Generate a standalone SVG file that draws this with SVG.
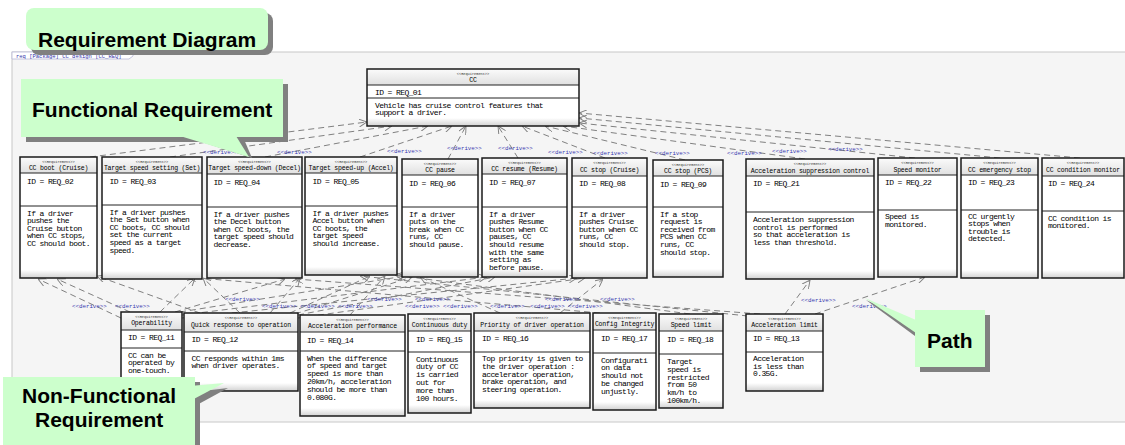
<svg xmlns="http://www.w3.org/2000/svg" width="1125" height="445" viewBox="0 0 1125 445">
<defs>
<linearGradient id="hg" x1="0" y1="0" x2="0" y2="1"><stop offset="0" stop-color="#fbfbfb"/><stop offset="1" stop-color="#e0e0e0"/></linearGradient>
<linearGradient id="fg" x1="0" y1="0" x2="0" y2="1"><stop offset="0" stop-color="#ffffff"/><stop offset="1" stop-color="#d2d2d2"/></linearGradient>
<marker id="ah" viewBox="0 0 10 10" refX="10" refY="5" markerWidth="8" markerHeight="8" markerUnits="userSpaceOnUse" orient="auto"><path d="M0,0 L10,5 L0,10" fill="none" stroke="#808080" stroke-width="1.2"/></marker>
<style>
.bx{fill:#fff}
.hd{fill:url(#hg)}
.ft{fill:url(#fg)}
.sep{stroke:#222;stroke-width:1;fill:none}
.ol{fill:none;stroke:#1a1a1a;stroke-width:1.5}
.st{font-family:"Liberation Mono",monospace;font-size:3.6px;fill:#333;text-anchor:middle}
.nm{font-family:"Liberation Mono",monospace;font-size:6.5px;letter-spacing:-0.2px;fill:#000;text-anchor:middle}
.tx{font-family:"Liberation Mono",monospace;font-size:8px;letter-spacing:-0.6px;fill:#000}
.lbl{font-family:"Liberation Mono",monospace;font-size:5.8px;fill:#3a3ab0}
.cn line{stroke:#808080;stroke-width:1;stroke-dasharray:6 4;fill:none;marker-end:url(#ah)}
.co{fill:#ccffcc}
.sh{fill:#808080}
.ct{font-family:"Liberation Sans",Arial,sans-serif;font-weight:bold;font-size:21px;fill:#000}
</style>
</defs>

<!-- diagram frame -->
<rect x="12" y="52" width="1120" height="370" fill="#f5f5f5" stroke="#c8c8c8" stroke-width="1"/>
<path d="M12,52 H133 V56 L129,59 H12 Z" fill="#fff" stroke="#b8b8d8" stroke-width="0.8"/>
<text x="16" y="57.5" style="font-family:'Liberation Mono',monospace;font-size:5.5px;fill:#3333aa">req [Package] CC design [CC_REQ]</text>

<!-- derive connectors -->
<g id="connectors" class="cn">
<line x1="90" y1="157" x2="367" y2="122"/>
<line x1="170" y1="157" x2="392" y2="126"/>
<line x1="265" y1="157" x2="428" y2="126"/>
<line x1="360" y1="157" x2="452" y2="126"/>
<line x1="448" y1="159" x2="466" y2="126"/>
<line x1="518" y1="158" x2="498" y2="126"/>
<line x1="605" y1="158" x2="522" y2="126"/>
<line x1="685" y1="160" x2="545" y2="126"/>
<line x1="805" y1="159" x2="563" y2="126"/>
<line x1="915" y1="158" x2="579" y2="123"/>
<line x1="1000" y1="158" x2="579" y2="118"/>
<line x1="1080" y1="158" x2="579" y2="113"/>

<line x1="121" y1="318" x2="38" y2="279"/>
<line x1="130" y1="312" x2="57" y2="279"/>
<line x1="200" y1="313" x2="97" y2="276"/>
<line x1="160" y1="312" x2="195" y2="278"/>
<line x1="240" y1="313" x2="203" y2="278"/>
<line x1="600" y1="313" x2="188" y2="277"/>
<line x1="175" y1="312" x2="285" y2="279"/>
<line x1="270" y1="313" x2="300" y2="278"/>
<line x1="760" y1="314" x2="295" y2="279"/>
<line x1="290" y1="313" x2="370" y2="276"/>
<line x1="350" y1="315" x2="385" y2="276"/>
<line x1="690" y1="314" x2="395" y2="275"/>
<line x1="748" y1="316" x2="360" y2="276"/>
<line x1="180" y1="312" x2="405" y2="276"/>
<line x1="295" y1="314" x2="412" y2="277"/>
<line x1="500" y1="313" x2="420" y2="277"/>
<line x1="182" y1="315" x2="487" y2="277"/>
<line x1="298" y1="315" x2="495" y2="277"/>
<line x1="182" y1="318" x2="577" y2="278"/>
<line x1="298" y1="318" x2="585" y2="278"/>
<line x1="560" y1="313" x2="603" y2="279"/>
<line x1="785" y1="314" x2="810" y2="280"/>
<line x1="815" y1="314" x2="925" y2="277"/>
</g>

<!-- connector labels -->
<g id="connector-labels" class="lbl">
<text x="203" y="154">&lt;&lt;derive&gt;&gt;</text>
<text x="277" y="154">&lt;&lt;derive&gt;&gt;</text>
<text x="387" y="153">&lt;&lt;derive&gt;&gt;</text>
<text x="447" y="150">&lt;&lt;derive&gt;&gt;</text>
<text x="498" y="150">&lt;&lt;derive&gt;&gt;</text>
<text x="548" y="154">&lt;&lt;derive&gt;&gt;</text>
<text x="593" y="155">&lt;&lt;derive&gt;&gt;</text>
<text x="655" y="155">&lt;&lt;derive&gt;&gt;</text>
<text x="727" y="155">&lt;&lt;derive&gt;&gt;</text>
<text x="772" y="153">&lt;&lt;derive&gt;&gt;</text>
<text x="828" y="151">&lt;&lt;derive&gt;&gt;</text>

<text x="72" y="308">&lt;&lt;derive&gt;&gt;</text>
<text x="115" y="308">&lt;&lt;derive&gt;&gt;</text>
<text x="225" y="301">&lt;&lt;derive&gt;&gt;</text>
<text x="262" y="308">&lt;&lt;derive&gt;&gt;</text>
<text x="300" y="308">&lt;&lt;derive&gt;&gt;</text>
<text x="338" y="308">&lt;&lt;derive&gt;&gt;</text>
<text x="367" y="301">&lt;&lt;derive&gt;&gt;</text>
<text x="405" y="308">&lt;&lt;derive&gt;&gt;</text>
<text x="415" y="301">&lt;&lt;derive&gt;&gt;</text>
<text x="443" y="308">&lt;&lt;derive&gt;&gt;</text>
<text x="490" y="308">&lt;&lt;derive&gt;&gt;</text>
<text x="530" y="308">&lt;&lt;derive&gt;&gt;</text>
<text x="545" y="301">&lt;&lt;derive&gt;&gt;</text>
<text x="568" y="308">&lt;&lt;derive&gt;&gt;</text>
<text x="600" y="301">&lt;&lt;derive&gt;&gt;</text>
<text x="801" y="302">&lt;&lt;derive&gt;&gt;</text>
<text x="852" y="308">&lt;&lt;derive&gt;&gt;</text>
</g>

<!-- requirement blocks -->
<g id="req-01">
<rect class="bx" x="367" y="69" width="212" height="57"/><rect class="hd" x="367" y="69" width="212" height="16"/><rect class="ft" x="367" y="118" width="212" height="8"/>
<path class="sep" d="M367,85 H579 M367,98 H579"/>
<text class="st" x="473" y="75">&lt;&lt;Requirement&gt;&gt;</text><text class="nm" x="473" y="82">CC</text>
<text class="tx" x="375" y="94.5">ID = REQ_01</text>
<text class="tx" x="375" y="107.5">Vehicle has cruise control features that<tspan x="375" dy="7.8">support a driver.</tspan></text>
<rect class="ol" x="367" y="69" width="212" height="57"/>
</g>

<g id="req-02">
<rect class="bx" x="20" y="157" width="77" height="121"/><rect class="hd" x="20" y="157" width="77" height="16"/><rect class="ft" x="20" y="270" width="77" height="8"/>
<path class="sep" d="M20,173 H97 M20,206 H97"/>
<text class="st" x="58.5" y="163">&lt;&lt;Requirement&gt;&gt;</text><text class="nm" x="58.5" y="169.5">CC boot (Cruise)</text>
<text class="tx" x="27" y="184">ID = REQ_02</text>
<text class="tx" x="27" y="215.5">If a driver<tspan x="27" dy="7.6">pushes the</tspan><tspan x="27" dy="7.6">Cruise button</tspan><tspan x="27" dy="7.6">when CC stops,</tspan><tspan x="27" dy="7.6">CC should boot.</tspan></text>
<rect class="ol" x="20" y="157" width="77" height="121"/>
</g>

<g id="req-03">
<rect class="bx" x="102" y="157" width="100" height="122"/><rect class="hd" x="102" y="157" width="100" height="16"/><rect class="ft" x="102" y="271" width="100" height="8"/>
<path class="sep" d="M102,173 H202 M102,205 H202"/>
<text class="st" x="152" y="163">&lt;&lt;Requirement&gt;&gt;</text><text class="nm" x="152" y="169.5">Target speed setting (Set)</text>
<text class="tx" x="109.5" y="184">ID = REQ_03</text>
<text class="tx" x="109.5" y="214.5">If a driver pushes<tspan x="109.5" dy="7.6">the Set button when</tspan><tspan x="109.5" dy="7.6">CC boots, CC should</tspan><tspan x="109.5" dy="7.6">set the current</tspan><tspan x="109.5" dy="7.6">speed as a target</tspan><tspan x="109.5" dy="7.6">speed.</tspan></text>
<rect class="ol" x="102" y="157" width="100" height="122"/>
</g>

<g id="req-04">
<rect class="bx" x="207" y="157" width="95" height="121"/><rect class="hd" x="207" y="157" width="95" height="17"/><rect class="ft" x="207" y="270" width="95" height="8"/>
<path class="sep" d="M207,174 H302 M207,207 H302"/>
<text class="st" x="254.5" y="163">&lt;&lt;Requirement&gt;&gt;</text><text class="nm" x="254.5" y="170">Target speed-down (Decel)</text>
<text class="tx" x="213.5" y="185">ID = REQ_04</text>
<text class="tx" x="213.5" y="216.5">If a driver pushes<tspan x="213.5" dy="7.6">the Decel button</tspan><tspan x="213.5" dy="7.6">when CC boots, the</tspan><tspan x="213.5" dy="7.6">target speed should</tspan><tspan x="213.5" dy="7.6">decrease.</tspan></text>
<rect class="ol" x="207" y="157" width="95" height="121"/>
</g>

<g id="req-05">
<rect class="bx" x="305" y="157" width="92" height="118"/><rect class="hd" x="305" y="157" width="92" height="16"/><rect class="ft" x="305" y="267" width="92" height="8"/>
<path class="sep" d="M305,173 H397 M305,206 H397"/>
<text class="st" x="351" y="163">&lt;&lt;Requirement&gt;&gt;</text><text class="nm" x="351" y="169.5">Target speed-up (Accel)</text>
<text class="tx" x="312.5" y="184">ID = REQ_05</text>
<text class="tx" x="312.5" y="215.5">If a driver pushes<tspan x="312.5" dy="7.6">Accel button when</tspan><tspan x="312.5" dy="7.6">CC boots, the</tspan><tspan x="312.5" dy="7.6">target speed</tspan><tspan x="312.5" dy="7.6">should increase.</tspan></text>
<rect class="ol" x="305" y="157" width="92" height="118"/>
</g>

<g id="req-06">
<rect class="bx" x="402" y="159" width="76" height="118"/><rect class="hd" x="402" y="159" width="76" height="16"/><rect class="ft" x="402" y="269" width="76" height="8"/>
<path class="sep" d="M402,175 H478 M402,207 H478"/>
<text class="st" x="440" y="165">&lt;&lt;Requirement&gt;&gt;</text><text class="nm" x="440" y="172">CC pause</text>
<text class="tx" x="409" y="186">ID = REQ_06</text>
<text class="tx" x="409" y="216.5">If a driver<tspan x="409" dy="7.6">puts on the</tspan><tspan x="409" dy="7.6">break when CC</tspan><tspan x="409" dy="7.6">runs, CC</tspan><tspan x="409" dy="7.6">should pause.</tspan></text>
<rect class="ol" x="402" y="159" width="76" height="118"/>
</g>

<g id="req-07">
<rect class="bx" x="482" y="158" width="85" height="119"/><rect class="hd" x="482" y="158" width="85" height="16"/><rect class="ft" x="482" y="269" width="85" height="8"/>
<path class="sep" d="M482,174 H567 M482,207 H567"/>
<text class="st" x="524.5" y="164">&lt;&lt;Requirement&gt;&gt;</text><text class="nm" x="524.5" y="171">CC resume (Resume)</text>
<text class="tx" x="489" y="185">ID = REQ_07</text>
<text class="tx" x="489" y="216.5">If a driver<tspan x="489" dy="7.6">pushes Resume</tspan><tspan x="489" dy="7.6">button when CC</tspan><tspan x="489" dy="7.6">pauses, CC</tspan><tspan x="489" dy="7.6">should resume</tspan><tspan x="489" dy="7.6">with the same</tspan><tspan x="489" dy="7.6">setting as</tspan><tspan x="489" dy="7.6">before pause.</tspan></text>
<rect class="ol" x="482" y="158" width="85" height="119"/>
</g>

<g id="req-08">
<rect class="bx" x="572" y="158" width="75" height="120"/><rect class="hd" x="572" y="158" width="75" height="18"/><rect class="ft" x="572" y="270" width="75" height="8"/>
<path class="sep" d="M572,176 H647 M572,207 H647"/>
<text class="st" x="609.5" y="164">&lt;&lt;Requirement&gt;&gt;</text><text class="nm" x="609.5" y="171.5">CC stop (Cruise)</text>
<text class="tx" x="579" y="186">ID = REQ_08</text>
<text class="tx" x="579" y="216.5">If a driver<tspan x="579" dy="7.6">pushes Cruise</tspan><tspan x="579" dy="7.6">button when CC</tspan><tspan x="579" dy="7.6">runs, CC</tspan><tspan x="579" dy="7.6">should stop.</tspan></text>
<rect class="ol" x="572" y="158" width="75" height="120"/>
</g>

<g id="req-09">
<rect class="bx" x="653" y="160" width="70" height="117"/><rect class="hd" x="653" y="160" width="70" height="16"/><rect class="ft" x="653" y="269" width="70" height="8"/>
<path class="sep" d="M653,176 H723 M653,207 H723"/>
<text class="st" x="688" y="166">&lt;&lt;Requirement&gt;&gt;</text><text class="nm" x="688" y="173">CC stop (PCS)</text>
<text class="tx" x="660" y="187">ID = REQ_09</text>
<text class="tx" x="660" y="216.5">If a stop<tspan x="660" dy="7.6">request is</tspan><tspan x="660" dy="7.6">received from</tspan><tspan x="660" dy="7.6">PCS when CC</tspan><tspan x="660" dy="7.6">runs, CC</tspan><tspan x="660" dy="7.6">should stop.</tspan></text>
<rect class="ol" x="653" y="160" width="70" height="117"/>
</g>

<g id="req-21">
<rect class="bx" x="746" y="159" width="128" height="120"/><rect class="hd" x="746" y="159" width="128" height="17"/><rect class="ft" x="746" y="271" width="128" height="8"/>
<path class="sep" d="M746,176 H874 M746,212 H874"/>
<text class="st" x="810" y="165">&lt;&lt;Requirement&gt;&gt;</text><text class="nm" x="810" y="172.5">Acceleration suppression control</text>
<text class="tx" x="753" y="186">ID = REQ_21</text>
<text class="tx" x="753" y="222">Acceleration suppression<tspan x="753" dy="7.6">control is performed</tspan><tspan x="753" dy="7.6">so that acceleration is</tspan><tspan x="753" dy="7.6">less than threshold.</tspan></text>
<rect class="ol" x="746" y="159" width="128" height="120"/>
</g>

<g id="req-22">
<rect class="bx" x="878" y="158" width="79" height="119"/><rect class="hd" x="878" y="158" width="79" height="17"/><rect class="ft" x="878" y="269" width="79" height="8"/>
<path class="sep" d="M878,175 H957 M878,210 H957"/>
<text class="st" x="917.5" y="164">&lt;&lt;Requirement&gt;&gt;</text><text class="nm" x="917.5" y="171.5">Speed monitor</text>
<text class="tx" x="885" y="185">ID = REQ_22</text>
<text class="tx" x="885" y="219">Speed is<tspan x="885" dy="7.6">monitored.</tspan></text>
<rect class="ol" x="878" y="158" width="79" height="119"/>
</g>

<g id="req-23">
<rect class="bx" x="961" y="158" width="77" height="120"/><rect class="hd" x="961" y="158" width="77" height="17"/><rect class="ft" x="961" y="270" width="77" height="8"/>
<path class="sep" d="M961,175 H1038 M961,210 H1038"/>
<text class="st" x="999.5" y="164">&lt;&lt;Requirement&gt;&gt;</text><text class="nm" x="999.5" y="171.5">CC emergency stop</text>
<text class="tx" x="968" y="185">ID = REQ_23</text>
<text class="tx" x="968" y="218.5">CC urgently<tspan x="968" dy="7.6">stops when</tspan><tspan x="968" dy="7.6">trouble is</tspan><tspan x="968" dy="7.6">detected.</tspan></text>
<rect class="ol" x="961" y="158" width="77" height="120"/>
</g>

<g id="req-24">
<rect class="bx" x="1042" y="158" width="82" height="120"/><rect class="hd" x="1042" y="158" width="82" height="18"/><rect class="ft" x="1042" y="270" width="82" height="8"/>
<path class="sep" d="M1042,176 H1124 M1042,211 H1124"/>
<text class="st" x="1083" y="164">&lt;&lt;Requirement&gt;&gt;</text><text class="nm" x="1083" y="171.5">CC condition monitor</text>
<text class="tx" x="1048" y="186">ID = REQ_24</text>
<text class="tx" x="1048" y="220.5">CC condition is<tspan x="1048" dy="7.6">monitored.</tspan></text>
<rect class="ol" x="1042" y="158" width="82" height="120"/>
</g>

<g id="req-11">
<rect class="bx" x="121" y="312" width="61" height="83"/><rect class="hd" x="121" y="312" width="61" height="18"/><rect class="ft" x="121" y="387" width="61" height="8"/>
<path class="sep" d="M121,330 H182 M121,348 H182"/>
<text class="st" x="151.5" y="318">&lt;&lt;Requirement&gt;&gt;</text><text class="nm" x="151.5" y="325">Operability</text>
<text class="tx" x="128" y="340">ID = REQ_11</text>
<text class="tx" x="128" y="357.5">CC can be<tspan x="128" dy="7.6">operated by</tspan><tspan x="128" dy="7.6">one-touch.</tspan></text>
<rect class="ol" x="121" y="312" width="61" height="83"/>
</g>

<g id="req-12">
<rect class="bx" x="184" y="313" width="114" height="78"/><rect class="hd" x="184" y="313" width="114" height="19"/><rect class="ft" x="184" y="383" width="114" height="8"/>
<path class="sep" d="M184,332 H298 M184,351 H298"/>
<text class="st" x="241" y="318.5">&lt;&lt;Requirement&gt;&gt;</text><text class="nm" x="241" y="327">Quick response to operation</text>
<text class="tx" x="191.5" y="342">ID = REQ_12</text>
<text class="tx" x="191.5" y="360.5">CC responds within 1ms<tspan x="191.5" dy="7.6">when driver operates.</tspan></text>
<rect class="ol" x="184" y="313" width="114" height="78"/>
</g>

<g id="req-14">
<rect class="bx" x="300" y="315" width="105" height="101"/><rect class="hd" x="300" y="315" width="105" height="17"/><rect class="ft" x="300" y="408" width="105" height="8"/>
<path class="sep" d="M300,332 H405 M300,351 H405"/>
<text class="st" x="352.5" y="320.5">&lt;&lt;Requirement&gt;&gt;</text><text class="nm" x="352.5" y="328">Acceleration performance</text>
<text class="tx" x="307" y="342.5">ID = REQ_14</text>
<text class="tx" x="307" y="360.5">When the difference<tspan x="307" dy="7.8">of speed and target</tspan><tspan x="307" dy="7.8">speed is more than</tspan><tspan x="307" dy="7.8">20km/h, acceleration</tspan><tspan x="307" dy="7.8">should be more than</tspan><tspan x="307" dy="7.8">0.080G.</tspan></text>
<rect class="ol" x="300" y="315" width="105" height="101"/>
</g>

<g id="req-15">
<rect class="bx" x="408" y="314" width="63" height="99"/><rect class="hd" x="408" y="314" width="63" height="17"/><rect class="ft" x="408" y="405" width="63" height="8"/>
<path class="sep" d="M408,331 H471 M408,352 H471"/>
<text class="st" x="439.5" y="320">&lt;&lt;Requirement&gt;&gt;</text><text class="nm" x="439.5" y="327">Continuous duty</text>
<text class="tx" x="416" y="341.5">ID = REQ_15</text>
<text class="tx" x="416" y="361.5">Continuous<tspan x="416" dy="7.8">duty of CC</tspan><tspan x="416" dy="7.8">is carried</tspan><tspan x="416" dy="7.8">out for</tspan><tspan x="416" dy="7.8">more than</tspan><tspan x="416" dy="7.8">100 hours.</tspan></text>
<rect class="ol" x="408" y="314" width="63" height="99"/>
</g>

<g id="req-16">
<rect class="bx" x="474" y="313" width="116" height="95"/><rect class="hd" x="474" y="313" width="116" height="18"/><rect class="ft" x="474" y="400" width="116" height="8"/>
<path class="sep" d="M474,331 H590 M474,352 H590"/>
<text class="st" x="532" y="319">&lt;&lt;Requirement&gt;&gt;</text><text class="nm" x="532" y="326.5">Priority of driver operation</text>
<text class="tx" x="482" y="341">ID = REQ_16</text>
<text class="tx" x="482" y="361">Top priority is given to<tspan x="482" dy="7.8">the driver operation :</tspan><tspan x="482" dy="7.8">accelerator operation,</tspan><tspan x="482" dy="7.8">brake operation, and</tspan><tspan x="482" dy="7.8">steering operation.</tspan></text>
<rect class="ol" x="474" y="313" width="116" height="95"/>
</g>

<g id="req-17">
<rect class="bx" x="593" y="313" width="63" height="97"/><rect class="hd" x="593" y="313" width="63" height="17"/><rect class="ft" x="593" y="402" width="63" height="8"/>
<path class="sep" d="M593,330 H656 M593,353 H656"/>
<text class="st" x="624.5" y="318.5">&lt;&lt;Requirement&gt;&gt;</text><text class="nm" x="624.5" y="325.5">Config Integrity</text>
<text class="tx" x="601" y="340.5">ID = REQ_17</text>
<text class="tx" x="601" y="362.5">Configurati<tspan x="601" dy="7.8">on data</tspan><tspan x="601" dy="7.8">should not</tspan><tspan x="601" dy="7.8">be changed</tspan><tspan x="601" dy="7.8">unjustly.</tspan></text>
<rect class="ol" x="593" y="313" width="63" height="97"/>
</g>

<g id="req-18">
<rect class="bx" x="659" y="314" width="64" height="94"/><rect class="hd" x="659" y="314" width="64" height="17"/><rect class="ft" x="659" y="400" width="64" height="8"/>
<path class="sep" d="M659,331 H723 M659,354 H723"/>
<text class="st" x="691" y="320">&lt;&lt;Requirement&gt;&gt;</text><text class="nm" x="691" y="327">Speed limit</text>
<text class="tx" x="667" y="341.5">ID = REQ_18</text>
<text class="tx" x="667" y="364">Target<tspan x="667" dy="7.8">speed is</tspan><tspan x="667" dy="7.8">restricted</tspan><tspan x="667" dy="7.8">from 50</tspan><tspan x="667" dy="7.8">km/h to</tspan><tspan x="667" dy="7.8">100km/h.</tspan></text>
<rect class="ol" x="659" y="314" width="64" height="94"/>
</g>

<g id="req-13">
<rect class="bx" x="746" y="314" width="77" height="77"/><rect class="hd" x="746" y="314" width="77" height="17"/><rect class="ft" x="746" y="383" width="77" height="8"/>
<path class="sep" d="M746,331 H823 M746,352 H823"/>
<text class="st" x="784.5" y="319.5">&lt;&lt;Requirement&gt;&gt;</text><text class="nm" x="784.5" y="326.5">Acceleration limit</text>
<text class="tx" x="753" y="341">ID = REQ_13</text>
<text class="tx" x="753" y="361">Acceleration<tspan x="753" dy="7.6">is less than</tspan><tspan x="753" dy="7.6">0.35G.</tspan></text>
<rect class="ol" x="746" y="314" width="77" height="77"/>
</g>

<!-- annotation callouts -->
<g id="note-diagram">
<rect class="sh" x="31" y="13" width="242" height="42" rx="8"/>
<rect class="co" x="26" y="8" width="242" height="42" rx="8"/>
<text class="ct" x="38" y="47">Requirement Diagram</text>
</g>

<g id="note-functional">
<rect class="sh" x="26" y="84" width="262" height="58"/>
<polygon class="sh" points="186,137 243,137 252,158"/>
<polygon class="co" points="180,136 236,136 249,157"/>
<rect class="co" x="21" y="79" width="262" height="58"/>
<text class="ct" x="32" y="117">Functional Requirement</text>
</g>

<g id="note-nonfunctional">
<rect class="sh" x="8" y="382" width="192" height="70"/>
<polygon class="sh" points="195,392 228,388 195,406"/>
<polygon class="co" points="190,386 224,383 190,401"/>
<rect class="co" x="3" y="377" width="192" height="70"/>
<text class="ct" x="22" y="403">Non-Functional</text>
<text class="ct" x="35" y="427">Requirement</text>
</g>

<g id="note-path">
<rect class="sh" x="920" y="315" width="70" height="57"/>
<polygon class="sh" points="866,300 915,322 915,336"/>
<polygon class="co" points="865,298 916,320 916,333"/>
<rect class="co" x="915" y="310" width="70" height="57"/>
<text class="ct" x="927" y="348">Path</text>
</g>
</svg>
